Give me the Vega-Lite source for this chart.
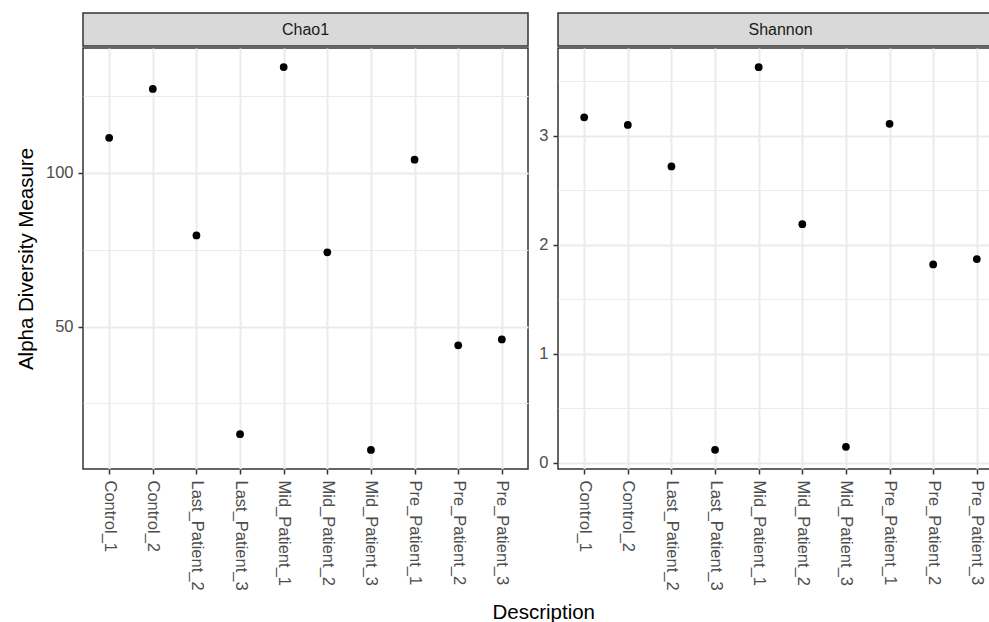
{
  "$schema": "https://vega.github.io/schema/vega-lite/v6.json",
  "padding": {"left": 15, "top": 12, "right": 0, "bottom": 0},
  "background": "white",
  "config": {
    "font": "Liberation Sans",
    "concat": {"spacing": 9},
    "axis": {
      "domain": false,
      "tickColor": "#333333",
      "tickSize": 5,
      "tickWidth": 1.5,
      "labelColor": "#4D4D4D",
      "labelFontSize": 16.5,
      "labelFont": "Liberation Sans",
      "titleFont": "Liberation Sans",
      "titleFontSize": 20.5,
      "titleFontWeight": "normal",
      "titleColor": "#000000",
      "gridColor": "#EBEBEB"
    }
  },
  "datasets": {
    "alpha": [
      {"Description": "Control_1", "measure": "Chao1", "value": 111.3},
      {"Description": "Control_2", "measure": "Chao1", "value": 127.2},
      {"Description": "Last_Patient_2", "measure": "Chao1", "value": 79.6},
      {"Description": "Last_Patient_3", "measure": "Chao1", "value": 15.0},
      {"Description": "Mid_Patient_1", "measure": "Chao1", "value": 134.3},
      {"Description": "Mid_Patient_2", "measure": "Chao1", "value": 74.1},
      {"Description": "Mid_Patient_3", "measure": "Chao1", "value": 9.9},
      {"Description": "Pre_Patient_1", "measure": "Chao1", "value": 104.2},
      {"Description": "Pre_Patient_2", "measure": "Chao1", "value": 43.9},
      {"Description": "Pre_Patient_3", "measure": "Chao1", "value": 45.8},
      {"Description": "Control_1", "measure": "Shannon", "value": 3.17},
      {"Description": "Control_2", "measure": "Shannon", "value": 3.10},
      {"Description": "Last_Patient_2", "measure": "Shannon", "value": 2.72},
      {"Description": "Last_Patient_3", "measure": "Shannon", "value": 0.12},
      {"Description": "Mid_Patient_1", "measure": "Shannon", "value": 3.63},
      {"Description": "Mid_Patient_2", "measure": "Shannon", "value": 2.19},
      {"Description": "Mid_Patient_3", "measure": "Shannon", "value": 0.147},
      {"Description": "Pre_Patient_1", "measure": "Shannon", "value": 3.11},
      {"Description": "Pre_Patient_2", "measure": "Shannon", "value": 1.82},
      {"Description": "Pre_Patient_3", "measure": "Shannon", "value": 1.87}
    ]
  },
  "title": {
    "text": "Description",
    "orient": "bottom",
    "anchor": "middle",
    "fontSize": 20.5,
    "fontWeight": "normal",
    "color": "#000000",
    "font": "Liberation Sans",
    "offset": 12,
    "dx": 34
  },
  "hconcat": [
    {
      "spacing": 0,
      "vconcat": [
        {
          "data": {"values": [{"label": "Chao1"}]},
          "width": 445,
          "height": 33,
          "view": {"fill": "#D9D9D9", "stroke": "#333333", "strokeWidth": 1.5},
          "mark": {"type": "text", "fontSize": 16, "color": "#1A1A1A", "baseline": "middle", "align": "center", "font": "Liberation Sans"},
          "encoding": {"text": {"field": "label"}}
        },
        {
          "data": {"name": "alpha"},
          "transform": [{"filter": "datum.measure === 'Chao1'"}],
          "width": 445,
          "height": 421,
          "view": {"stroke": "#333333", "strokeWidth": 1.5},
          "mark": {"type": "point", "filled": true, "size": 60, "color": "#000000", "opacity": 1},
          "encoding": {
            "x": {
              "field": "Description", "type": "nominal",
              "scale": {"type": "point", "padding": 0.6},
              "axis": {"title": null, "labelAngle": 90, "labelAlign": "left", "labelBaseline": "middle", "labelPadding": 6, "grid": true, "gridWidth": 2}
            },
            "y": {
              "field": "value", "type": "quantitative",
              "scale": {"domain": [3.7, 140.5], "nice": false, "zero": false},
              "axis": {
                "title": "Alpha Diversity Measure",
                "titlePadding": 9,
                "values": [25, 50, 75, 100, 125],
                "format": "d",
                "labelPadding": 5,
                "labelExpr": "datum.value % 50 === 0 ? datum.label : ''",
                "tickOpacity": {"condition": {"test": "datum.value % 50 !== 0", "value": 0}, "value": 1},
                "gridWidth": {"condition": {"test": "datum.value % 50 !== 0", "value": 1.2}, "value": 2}
              }
            }
          }
        }
      ]
    },
    {
      "spacing": 0,
      "vconcat": [
        {
          "data": {"values": [{"label": "Shannon"}]},
          "width": 445,
          "height": 33,
          "view": {"fill": "#D9D9D9", "stroke": "#333333", "strokeWidth": 1.5},
          "mark": {"type": "text", "fontSize": 16, "color": "#1A1A1A", "baseline": "middle", "align": "center", "font": "Liberation Sans"},
          "encoding": {"text": {"field": "label"}}
        },
        {
          "data": {"name": "alpha"},
          "transform": [{"filter": "datum.measure === 'Shannon'"}],
          "width": 445,
          "height": 421,
          "view": {"stroke": "#333333", "strokeWidth": 1.5},
          "mark": {"type": "point", "filled": true, "size": 60, "color": "#000000", "opacity": 1},
          "encoding": {
            "x": {
              "field": "Description", "type": "nominal",
              "scale": {"type": "point", "padding": 0.6},
              "axis": {"title": null, "labelAngle": 90, "labelAlign": "left", "labelBaseline": "middle", "labelPadding": 6, "grid": true, "gridWidth": 2}
            },
            "y": {
              "field": "value", "type": "quantitative",
              "scale": {"domain": [-0.056, 3.806], "nice": false, "zero": false},
              "axis": {
                "title": null,
                "values": [0, 0.5, 1, 1.5, 2, 2.5, 3, 3.5],
                "format": "~g",
                "labelPadding": 5,
                "labelExpr": "datum.value % 1 === 0 ? datum.label : ''",
                "tickOpacity": {"condition": {"test": "datum.value % 1 !== 0", "value": 0}, "value": 1},
                "gridWidth": {"condition": {"test": "datum.value % 1 !== 0", "value": 1.2}, "value": 2}
              }
            }
          }
        }
      ]
    }
  ]
}
